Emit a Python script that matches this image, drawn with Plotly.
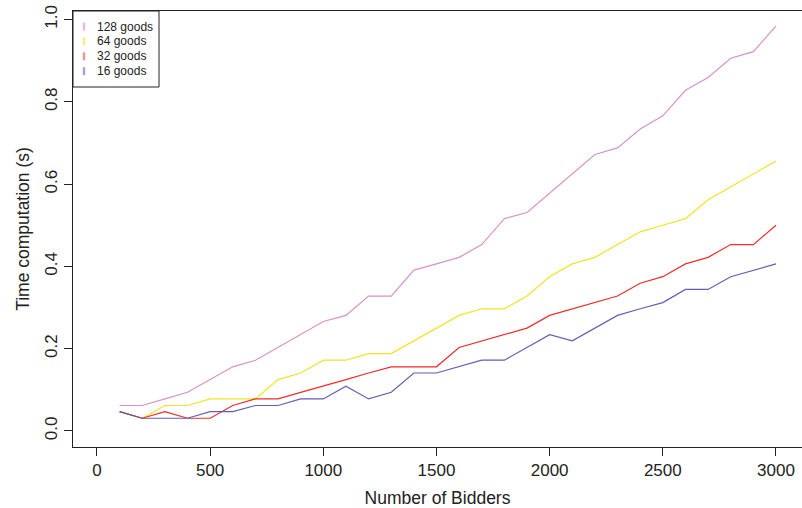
import plotly.graph_objects as go

# Number of bidders (x) and mean computation time in seconds for each goods count
bidders = [100, 200, 300, 400, 500, 600, 700, 800, 900, 1000,
           1100, 1200, 1300, 1400, 1500, 1600, 1700, 1800, 1900, 2000,
           2100, 2200, 2300, 2400, 2500, 2600, 2700, 2800, 2900, 3000]

goods_128 = [0.062, 0.062, 0.078, 0.094, 0.125, 0.156, 0.172, 0.203, 0.234, 0.266,
             0.281, 0.328, 0.328, 0.391, 0.406, 0.422, 0.453, 0.516, 0.531, 0.578,
             0.625, 0.672, 0.688, 0.734, 0.766, 0.828, 0.859, 0.906, 0.922, 0.984]
goods_64 = [0.047, 0.031, 0.062, 0.062, 0.078, 0.078, 0.078, 0.125, 0.141, 0.172,
            0.172, 0.188, 0.188, 0.219, 0.250, 0.281, 0.297, 0.297, 0.328, 0.375,
            0.406, 0.422, 0.453, 0.484, 0.500, 0.516, 0.562, 0.594, 0.625, 0.656]
goods_32 = [0.047, 0.031, 0.047, 0.031, 0.031, 0.062, 0.078, 0.078, 0.094, 0.109,
            0.125, 0.141, 0.156, 0.156, 0.156, 0.203, 0.219, 0.234, 0.250, 0.281,
            0.297, 0.312, 0.328, 0.359, 0.375, 0.406, 0.422, 0.453, 0.453, 0.500]
goods_16 = [0.047, 0.031, 0.031, 0.031, 0.047, 0.047, 0.062, 0.062, 0.078, 0.078,
            0.109, 0.078, 0.094, 0.141, 0.141, 0.156, 0.172, 0.172, 0.203, 0.234,
            0.219, 0.250, 0.281, 0.297, 0.312, 0.344, 0.344, 0.375, 0.391, 0.406]

series_names = ["128 goods", "64 goods", "32 goods", "16 goods"]
series_values = [goods_128, goods_64, goods_32, goods_16]
series_colors = ["#D693C9", "#F0E424", "#EE2C2C", "#625EB4"]
legend_colors = ["#E8B6DE", "#F4EE80", "#F49494", "#A4A2D6"]

x_ticks = [0, 500, 1000, 1500, 2000, 2500, 3000]
y_ticks = [0.0, 0.2, 0.4, 0.6, 0.8, 1.0]

W, H = 802, 508
ML, MR, MT, MB = 73, 0, 11, 61
PW, PH = W - ML - MR, H - MT - MB

fig = go.Figure()
for name, vals, col in zip(series_names, series_values, series_colors):
    fig.add_trace(go.Scatter(x=bidders, y=vals, mode="lines", name=name,
                             line=dict(color=col, width=1.2), showlegend=False))

font_family = "Liberation Sans, Arial, Helvetica, sans-serif"
text_color = "#222"
fig.update_layout(
    width=W, height=H,
    margin=dict(l=ML, r=MR, t=MT, b=MB, pad=0),
    plot_bgcolor="white", paper_bgcolor="white",
    font=dict(family=font_family, size=17, color=text_color),
    xaxis=dict(range=[-106, 3115], tickvals=x_ticks, ticks="outside", ticklen=8,
               tickcolor="#222", showline=True, linecolor="#222", linewidth=1,
               mirror=True, showgrid=False, zeroline=False,
               title=dict(text="Number of Bidders", standoff=14,
                          font=dict(size=17.5, color=text_color))),
    yaxis=dict(range=[-0.0389, 1.0207], tickvals=y_ticks, tickformat=".1f",
               tickangle=-90, ticks="outside", ticklen=8, tickcolor="#222",
               showline=True, linecolor="#222", linewidth=1, showgrid=False,
               zeroline=False,
               title=dict(text="Time computation (s)", standoff=8,
                          font=dict(size=17.5, color=text_color))),
)


def px_x(px):
    return (px - ML) / PW


def px_y(py):
    return (H - MB - py) / PH


# Legend box in the top-left corner of the plotting region
fig.add_shape(type="rect", xref="paper", yref="paper",
              x0=px_x(73), x1=px_x(159), y0=px_y(87), y1=px_y(11),
              line=dict(color="#222", width=1), fillcolor="white", layer="above")
for i, (name, col) in enumerate(zip(series_names, legend_colors)):
    cy = 26.5 + 14.9 * i
    fig.add_shape(type="line", xref="paper", yref="paper",
                  x0=px_x(84), x1=px_x(84), y0=px_y(cy - 4), y1=px_y(cy + 4),
                  line=dict(color=col, width=2.5), layer="above")
    fig.add_annotation(xref="paper", yref="paper", x=px_x(95), y=px_y(cy),
                       xanchor="left", yanchor="middle", text=name, showarrow=False,
                       font=dict(size=12, color=text_color, family=font_family))

fig.write_html("out.html")
